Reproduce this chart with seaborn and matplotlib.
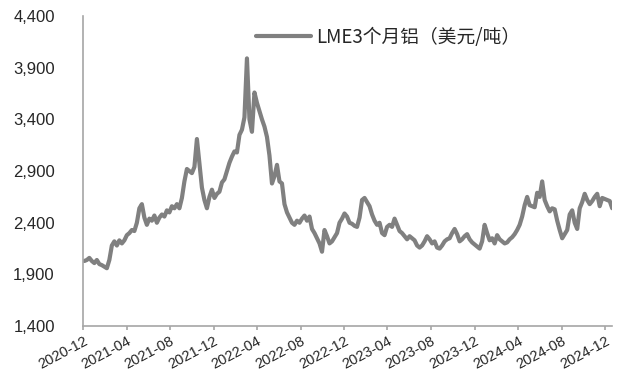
import numpy as np
import pandas as pd
import matplotlib
matplotlib.use("Agg")
import matplotlib.pyplot as plt
import seaborn as sns

# weekly (Friday) LME 3-month aluminium, USD/t
dates_2020 = pd.date_range("2020-12-04", "2020-12-25", freq="W-FRI")
dates_2021 = pd.date_range("2021-01-01", "2021-12-31", freq="W-FRI")
dates_2022 = pd.date_range("2022-01-07", "2022-12-30", freq="W-FRI")
dates_2023 = pd.date_range("2023-01-06", "2023-12-29", freq="W-FRI")
dates_2024 = pd.date_range("2024-01-05", "2024-12-20", freq="W-FRI")

price_2020 = [2030, 2040, 2060, 2030]
price_2021 = [2010, 2040, 2000, 1990, 1975, 1960, 2040, 2180, 2220, 2180,
              2230, 2200, 2230, 2280, 2300, 2330, 2320, 2400, 2540, 2580,
              2450, 2380, 2440, 2420, 2470, 2400, 2450, 2480, 2460, 2520,
              2500, 2560, 2540, 2580, 2540, 2640, 2800, 2920, 2900, 2880,
              2940, 3210, 2980, 2740, 2620, 2540, 2650, 2720, 2640, 2680,
              2700, 2790, 2820]
price_2022 = [2900, 2980, 3040, 3090, 3080, 3250, 3300, 3420, 3990, 3400,
              3280, 3660, 3560, 3480, 3400, 3330, 3230, 3050, 2780, 2850,
              2960, 2800, 2780, 2580, 2500, 2450, 2400, 2380, 2420, 2400,
              2440, 2470, 2420, 2460, 2340, 2300, 2250, 2200, 2120, 2330,
              2270, 2200, 2220, 2260, 2300, 2400, 2440, 2490, 2460, 2400,
              2390, 2370]
price_2023 = [2360, 2450, 2620, 2640, 2600, 2560, 2480, 2420, 2380, 2400,
              2300, 2280, 2360, 2380, 2360, 2440, 2380, 2320, 2300, 2270,
              2240, 2270, 2250, 2230, 2180, 2160, 2180, 2220, 2270, 2240,
              2200, 2220, 2160, 2150, 2180, 2220, 2240, 2250, 2300, 2340,
              2290, 2220, 2240, 2270, 2290, 2240, 2210, 2190, 2170, 2150,
              2220, 2380]
price_2024 = [2300, 2230, 2250, 2200, 2280, 2240, 2220, 2200, 2210, 2240,
              2260, 2290, 2330, 2380, 2460, 2570, 2650, 2570, 2560, 2550,
              2690, 2650, 2800, 2620, 2560, 2510, 2540, 2530, 2420, 2330,
              2250, 2290, 2330, 2480, 2520, 2400, 2340, 2540, 2600, 2680,
              2620, 2580, 2610, 2650, 2680, 2560, 2640, 2630, 2620, 2610,
              2540]

tick_dates = pd.date_range("2020-12-01", "2024-12-01", freq="4MS")
y_ticks = [1400, 1900, 2400, 2900, 3400, 3900, 4400]
series_name = "LME3个月铝（美元/吨）"

df = pd.DataFrame({
    "date": np.concatenate([dates_2020, dates_2021, dates_2022, dates_2023, dates_2024]),
    "price": price_2020 + price_2021 + price_2022 + price_2023 + price_2024,
})

sns.set_style("white")
plt.rcParams["font.family"] = ["Liberation Sans", "Noto Sans CJK SC", "DejaVu Sans"]

fig = plt.figure(figsize=(6.26, 3.81), dpi=100)
ax = fig.add_axes([0.133, 0.144, 0.845, 0.814])

sns.lineplot(data=df, x="date", y="price", ax=ax, color="#808080",
             linewidth=3.0, label=series_name)

ax.set_ylim(1400, 4400)
ax.set_yticks(y_ticks)
ax.set_yticklabels([f"{v:,}" for v in y_ticks], fontsize=12)
ax.set_xlim(pd.Timestamp("2020-12-01"), df["date"].iloc[-1])
ax.set_xticks(tick_dates)
ax.set_xticklabels([d.strftime("%Y-%m") for d in tick_dates], fontsize=10.5,
                   rotation=28, ha="right", rotation_mode="anchor")
ax.set_xlabel("")
ax.set_ylabel("")

for side in ["top", "right"]:
    ax.spines[side].set_visible(False)
for side in ["left", "bottom"]:
    ax.spines[side].set_color("#a6a6a6")
    ax.spines[side].set_linewidth(1.2)
ax.tick_params(axis="x", bottom=True, length=3, width=1.2, color="#a6a6a6", pad=3)
ax.tick_params(axis="y", left=False, pad=17)
ax.grid(False)

leg = ax.legend(loc="upper center", bbox_to_anchor=(0.577, 1.02), frameon=False,
                handlelength=2.9, handletextpad=0.3,
                prop={"family": ["Noto Sans CJK SC"], "size": 13.5})

fig.savefig("out.png", dpi=100)
